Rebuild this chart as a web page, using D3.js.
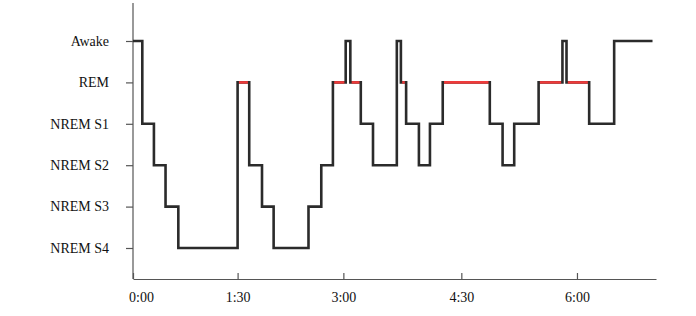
<!DOCTYPE html>
<html>
<head>
<meta charset="utf-8">
<script src="https://cdn.jsdelivr.net/npm/d3@7/dist/d3.min.js"></script>
<style>
  html, body { margin: 0; padding: 0; background: #fff; }
  svg { display: block; }
  text { font-family: "Liberation Serif", "Times New Roman", serif; fill: #111; }
</style>
</head>
<body>
<svg id="chart" width="696" height="316"></svg>
<script>
// ---- data ----
const stages = ["Awake", "REM", "NREM S1", "NREM S2", "NREM S3", "NREM S4"];
// segment start times (minutes) and the stage held from that time on
const segStart = [0, 8, 18, 28, 39, 90, 100, 111, 121, 151, 162, 172, 183, 187, 196, 206.5, 227, 230.5, 235, 246, 255.5, 266.5, 307, 318, 328, 349, 369.5, 373, 392.5, 414];
const segStage = ["Awake", "NREM S1", "NREM S2", "NREM S3", "NREM S4", "REM", "NREM S2", "NREM S3", "NREM S4", "NREM S3", "NREM S2", "REM", "Awake", "REM", "NREM S1", "NREM S2", "Awake", "REM", "NREM S1", "NREM S2", "NREM S1", "REM", "NREM S1", "NREM S2", "NREM S1", "REM", "Awake", "REM", "NREM S1", "Awake"];
const recordEnd = 447;
const tickMinutes = [0, 90, 181, 282.5, 382];
const tickLabels = ["0:00", "1:30", "3:00", "4:30", "6:00"];
const axisMax = 450;

// ---- layout ----
const svg = d3.select("#chart");
const left = 133, right = 656, axisY = 279, axisTop = 3;
const x = d3.scaleLinear().domain([0, axisMax]).range([left, right]);
const y = d3.scalePoint().domain(stages).range([41, 248]).padding(0);

const pts = segStart.map((t, i) => ({ t, s: segStage[i] }));
pts.push({ t: recordEnd, s: segStage[segStage.length - 1] });

// axes
const axisColor = "#555";
svg.append("line")
  .attr("x1", left).attr("x2", left).attr("y1", axisTop).attr("y2", axisY)
  .attr("stroke", axisColor).attr("stroke-width", 1.2);

const yAxis = svg.append("g").attr("transform", `translate(${left},0)`)
  .call(d3.axisLeft(y).tickSize(7).tickSizeOuter(0).tickPadding(17));
yAxis.select(".domain").remove();
yAxis.selectAll("line").attr("stroke", axisColor).attr("stroke-width", 1.2);
yAxis.selectAll("text")
  .attr("font-size", 14)
  .attr("fill", "#111")
  .attr("font-family", "Liberation Serif, Times New Roman, serif")
  .attr("dy", "0.3em");

const xAxis = svg.append("g").attr("transform", `translate(0,${axisY})`)
  .call(d3.axisBottom(x).tickValues(tickMinutes)
    .tickFormat((d, i) => tickLabels[i])
    .tickSize(-6).tickSizeOuter(0).tickPadding(13));
xAxis.select(".domain").attr("stroke", axisColor).attr("stroke-width", 1.2);
xAxis.selectAll("line").attr("stroke", axisColor).attr("stroke-width", 1.2);
xAxis.selectAll("text")
  .attr("font-size", 14)
  .attr("fill", "#111")
  .attr("font-family", "Liberation Serif, Times New Roman, serif")
  .attr("dx", (d, i) => i === 0 ? 8 : 0);

// hypnogram step line
const line = d3.line()
  .x(d => x(d.t))
  .y(d => y(d.s))
  .curve(d3.curveStepAfter);

svg.append("path")
  .datum(pts)
  .attr("d", line)
  .attr("fill", "none")
  .attr("stroke", "#2b2b2b")
  .attr("stroke-width", 2.6)
  .attr("stroke-linejoin", "miter");

// REM segments in red
const remSegs = [];
for (let i = 0; i < segStart.length; i++) {
  if (segStage[i] === "REM") {
    const end = i + 1 < segStart.length ? segStart[i + 1] : recordEnd;
    remSegs.push({ a: segStart[i], b: end });
  }
}
svg.append("g").selectAll("line")
  .data(remSegs)
  .join("line")
  .attr("x1", d => x(d.a) + 1.3)
  .attr("x2", d => x(d.b) - 1.3)
  .attr("y1", y("REM"))
  .attr("y2", y("REM"))
  .attr("stroke", "#ee3b3b")
  .attr("stroke-width", 2.6);
</script>
</body>
</html>
